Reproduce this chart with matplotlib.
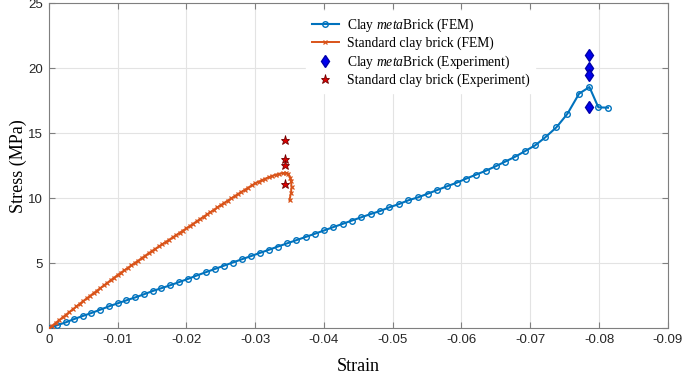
"""
Stress-strain curves: clay metaBrick vs standard clay brick (FEM + experiment).
"""

import matplotlib
matplotlib.use('Agg')
import matplotlib.pyplot as plt

# Clay metaBrick (FEM) - strain / stress (MPa)
meta_strain = [0, -0.00115, -0.00247, -0.00372, -0.00495, -0.0062, -0.00747, -0.00874,
               -0.0100, -0.01127, -0.01258, -0.01385, -0.01511, -0.01633, -0.01759,
               -0.01886, -0.02018, -0.02145, -0.0228, -0.02412, -0.02547, -0.02674,
               -0.02806, -0.02937, -0.03069, -0.0320, -0.03331, -0.03467, -0.03599,
               -0.03736, -0.03872, -0.04003, -0.04134, -0.0427, -0.04407, -0.04543,
               -0.04679, -0.04816, -0.04952, -0.05093, -0.05229, -0.05371, -0.05507,
               -0.05648, -0.05788, -0.0593, -0.06066, -0.06212, -0.06353, -0.06495,
               -0.06635, -0.06781, -0.06927, -0.07073, -0.0722, -0.0738, -0.0754,
               -0.0771, -0.0786, -0.0799, -0.0813]
meta_stress = [0, 0.23, 0.46, 0.72, 0.95, 1.18, 1.43, 1.69,
               1.92, 2.15, 2.38, 2.62, 2.87, 3.08, 3.30,
               3.54, 3.79, 4.05, 4.31, 4.56, 4.82, 5.06,
               5.31, 5.55, 5.80, 6.04, 6.29, 6.54, 6.78,
               7.03, 7.28, 7.53, 7.78, 8.03, 8.29, 8.54,
               8.79, 9.02, 9.31, 9.56, 9.85, 10.08, 10.35,
               10.64, 10.92, 11.20, 11.51, 11.82, 12.12, 12.46,
               12.82, 13.20, 13.64, 14.08, 14.70, 15.46, 16.50,
               18.05, 18.56, 17.00, 16.97]

# Standard clay brick (FEM)
std_strain = [0, -0.0005, -0.001, -0.0015, -0.002, -0.0025, -0.003, -0.0035, -0.004, -0.0045,
              -0.005, -0.0055, -0.006, -0.0065, -0.007, -0.0075, -0.008, -0.0085, -0.009, -0.0095,
              -0.010, -0.0105, -0.011, -0.0115, -0.012, -0.0125, -0.013, -0.0135, -0.014, -0.0145,
              -0.015, -0.0155, -0.016, -0.0165, -0.017, -0.0175, -0.018, -0.0185, -0.019, -0.0195,
              -0.020, -0.0205, -0.021, -0.0215, -0.022, -0.0225, -0.023, -0.0235, -0.024, -0.0245,
              -0.025, -0.0255, -0.026, -0.0265, -0.027, -0.0275, -0.028, -0.0285, -0.029, -0.0295,
              -0.030, -0.0305, -0.031, -0.0315, -0.032, -0.0325, -0.033, -0.0335, -0.034,
              -0.0345, -0.0348, -0.0351, -0.0352, -0.0353, -0.0352, -0.0350]
std_stress = [0, 0.21, 0.42, 0.63, 0.84, 1.05, 1.26, 1.47, 1.68, 1.89,
              2.10, 2.30, 2.50, 2.70, 2.90, 3.10, 3.30, 3.50, 3.70, 3.90,
              4.10, 4.29, 4.47, 4.66, 4.84, 5.03, 5.21, 5.40, 5.58, 5.77,
              5.95, 6.12, 6.30, 6.47, 6.65, 6.82, 6.99, 7.17, 7.34, 7.52,
              7.69, 7.87, 8.05, 8.23, 8.41, 8.59, 8.76, 8.94, 9.12, 9.30,
              9.48, 9.65, 9.82, 9.99, 10.16, 10.33, 10.50, 10.66, 10.83, 10.99,
              11.15, 11.28, 11.40, 11.52, 11.63, 11.73, 11.82, 11.89, 11.94,
              11.96, 11.88, 11.60, 11.30, 10.90, 10.40, 9.87]

# Experiments
meta_exp_strain = [-0.0786, -0.0786, -0.0786, -0.0786]
meta_exp_stress = [21.05, 20.05, 19.5, 17.05]
std_exp_strain = [-0.0344, -0.0344, -0.0344, -0.0344]
std_exp_stress = [14.5, 13.0, 12.6, 11.1]

x_ticks = [0, -0.01, -0.02, -0.03, -0.04, -0.05, -0.06, -0.07, -0.08, -0.09]
x_tick_labels = ['0', '-0.01', '-0.02', '-0.03', '-0.04', '-0.05', '-0.06', '-0.07', '-0.08', '-0.09']
y_ticks = [0, 5, 10, 15, 20, 25]

plt.rcParams['font.family'] = ['Liberation Sans', 'DejaVu Sans']
plt.rcParams['axes.unicode_minus'] = False
plt.rcParams['mathtext.fontset'] = 'custom'
plt.rcParams['mathtext.rm'] = 'Liberation Serif'
plt.rcParams['mathtext.it'] = 'Liberation Serif:italic'

fig = plt.figure(figsize=(6.82, 3.81), dpi=100)
ax = fig.add_axes([0.0716, 0.1383, 0.9076, 0.853])

blue = '#0072BD'
orange = '#D95319'

ax.plot(meta_strain, meta_stress, color=blue, lw=1.5, marker='o', ms=4,
        mfc='none', mew=1.0, label=r'Clay $\mathit{meta}$Brick (FEM)', zorder=3)
ax.plot(std_strain, std_stress, color=orange, lw=1.4, marker='x', ms=3.5,
        mew=0.9, label='Standard clay brick (FEM)', zorder=3)
ax.plot(meta_exp_strain, meta_exp_stress, ls='none', marker='d', ms=6.5,
        color='#0000EE', mec='#0000AA', label=r'Clay $\mathit{meta}$Brick (Experiment)', zorder=4)
ax.plot(std_exp_strain, std_exp_stress, ls='none', marker='*', ms=6.5,
        mfc='#DD0000', mec='#700000', mew=0.6,
        label='Standard clay brick (Experiment)', zorder=4)

ax.set_xlim(0, -0.09)
ax.set_ylim(0, 25)
ax.set_xticks(x_ticks)
ax.set_xticklabels(x_tick_labels)
ax.set_yticks(y_ticks)

ax.grid(True, color='#E3E3E3', lw=0.8)
ax.set_axisbelow(True)
for side in ax.spines.values():
    side.set_color('#7F7F7F')
    side.set_linewidth(0.8)
ax.tick_params(direction='in', length=4, width=0.8, color='#7F7F7F',
               labelsize=9.5, labelcolor='#262626', top=True, right=True, pad=4)

ax.set_xlabel('Strain', family='Liberation Serif', fontsize=13, labelpad=9)
ax.set_ylabel('Stress (MPa)', family='Liberation Serif', fontsize=13, labelpad=1)

leg = ax.legend(loc='upper left', bbox_to_anchor=(0.405, 0.997), frameon=True,
                prop={'family': 'Liberation Serif', 'size': 9.8},
                handlelength=2.0, labelspacing=0.22, borderpad=0.4,
                handletextpad=0.6, fancybox=False)
leg.get_frame().set_edgecolor('white')
leg.get_frame().set_alpha(1.0)

fig.savefig('out.png', dpi=100)
